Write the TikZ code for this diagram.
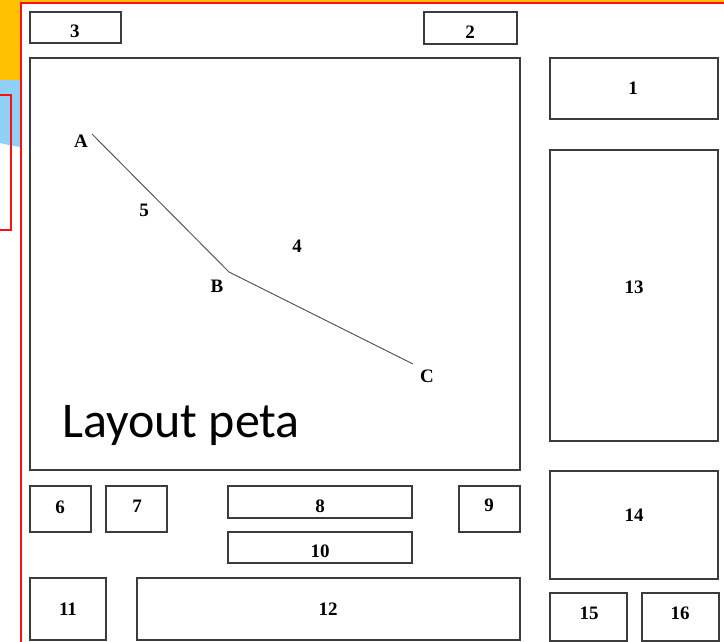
\documentclass[tikz,border=0pt]{standalone}
\usepackage{fontspec}
\setmainfont{Liberation Serif}
\newfontfamily\layoutfont{Carlito}
\definecolor{frameRed}{HTML}{FF1010}
\definecolor{bandOrange}{HTML}{FFC000}
\definecolor{bandBlue}{HTML}{8ED0F6}
\definecolor{boxLine}{HTML}{3C3C3C}
\begin{document}
\begin{tikzpicture}[x=1pt,y=-1pt,
  box/.style={draw=boxLine, line width=1.3pt, fill=white, anchor=north west, inner sep=0pt, outer sep=0pt},
  lbl/.style={font=\fontsize{19}{19}\selectfont\bfseries, inner sep=0pt},
  route/.style={draw=black!65, line width=1pt}]
\useasboundingbox (0,0) rectangle (724,641);
\fill[white] (0,0) rectangle (724,641);
% left decorative strip
\fill[bandOrange] (0,0) rectangle (724,2);
\fill[bandOrange] (0,0) rectangle (21,80);
\fill[bandBlue] (0,80) -- (21,80) -- (21,147) .. controls (12,146) and (5,144) .. (0,143) -- cycle;
\draw[frameRed, line width=1.6pt] (-2,95) rectangle (11,230);
% main red frame
\draw[frameRed, line width=2pt] (21,645) -- (21,3) -- (728,3);
% boxes
\node[box, minimum width=91pt, minimum height=31pt] (b3) at (30,12) {};
\node[box, minimum width=93pt, minimum height=32pt] (b2) at (424,12) {};
\node[box, minimum width=490pt, minimum height=412pt] (map) at (30,58) {};
\node[box, minimum width=168pt, minimum height=61pt] (b1) at (550,58) {};
\node[box, minimum width=168pt, minimum height=291pt] (b13) at (550,150) {};
\node[box, minimum width=168pt, minimum height=108pt] (b14) at (550,471) {};
\node[box, minimum width=77pt, minimum height=48pt] (b15) at (550,593) {};
\node[box, minimum width=77pt, minimum height=48pt] (b16) at (642,593) {};
\node[box, minimum width=61pt, minimum height=46pt] (b6) at (30,486) {};
\node[box, minimum width=61pt, minimum height=46pt] (b7) at (106,486) {};
\node[box, minimum width=184pt, minimum height=32pt] (b8) at (228,486) {};
\node[box, minimum width=61pt, minimum height=46pt] (b9) at (459,486) {};
\node[box, minimum width=184pt, minimum height=31pt] (b10) at (228,532) {};
\node[box, minimum width=76pt, minimum height=62pt] (b11) at (30,578) {};
\node[box, minimum width=383pt, minimum height=62pt] (b12) at (137,578) {};
% box labels
\node[lbl] (t3) at (75,31) {3};
\node[lbl] (t2) at (470,32) {2};
\node[lbl] (t1) at (633,88) {1};
\node[lbl] (t13) at (634,287) {13};
\node[lbl] (t14) at (634,515) {14};
\node[lbl] (t15) at (589,613) {15};
\node[lbl] (t16) at (680,613) {16};
\node[lbl] (t6) at (60,507) {6};
\node[lbl] (t7) at (137,506) {7};
\node[lbl] (t8) at (320,506) {8};
\node[lbl] (t9) at (489,505) {9};
\node[lbl] (t10) at (320,551) {10};
\node[lbl] (t11) at (68,609) {11};
\node[lbl] (t12) at (328,609) {12};
% route inside the map
\coordinate (pA) at (92,134);
\coordinate (pB) at (229,272);
\coordinate (pC) at (413,364);
\draw[route] (pA) -- (pB) -- (pC);
\node[lbl] (lA) at (81,141) {A};
\node[lbl] (lB) at (217,286) {B};
\node[lbl] (lC) at (427,376) {C};
\node[lbl] (l5) at (144,210) {5};
\node[lbl] (l4) at (297,246) {4};
\node[anchor=base west, inner sep=0pt, font=\layoutfont\fontsize{50}{50}\selectfont] (lp) at (62,437) {Layout peta};
\end{tikzpicture}
\end{document}
